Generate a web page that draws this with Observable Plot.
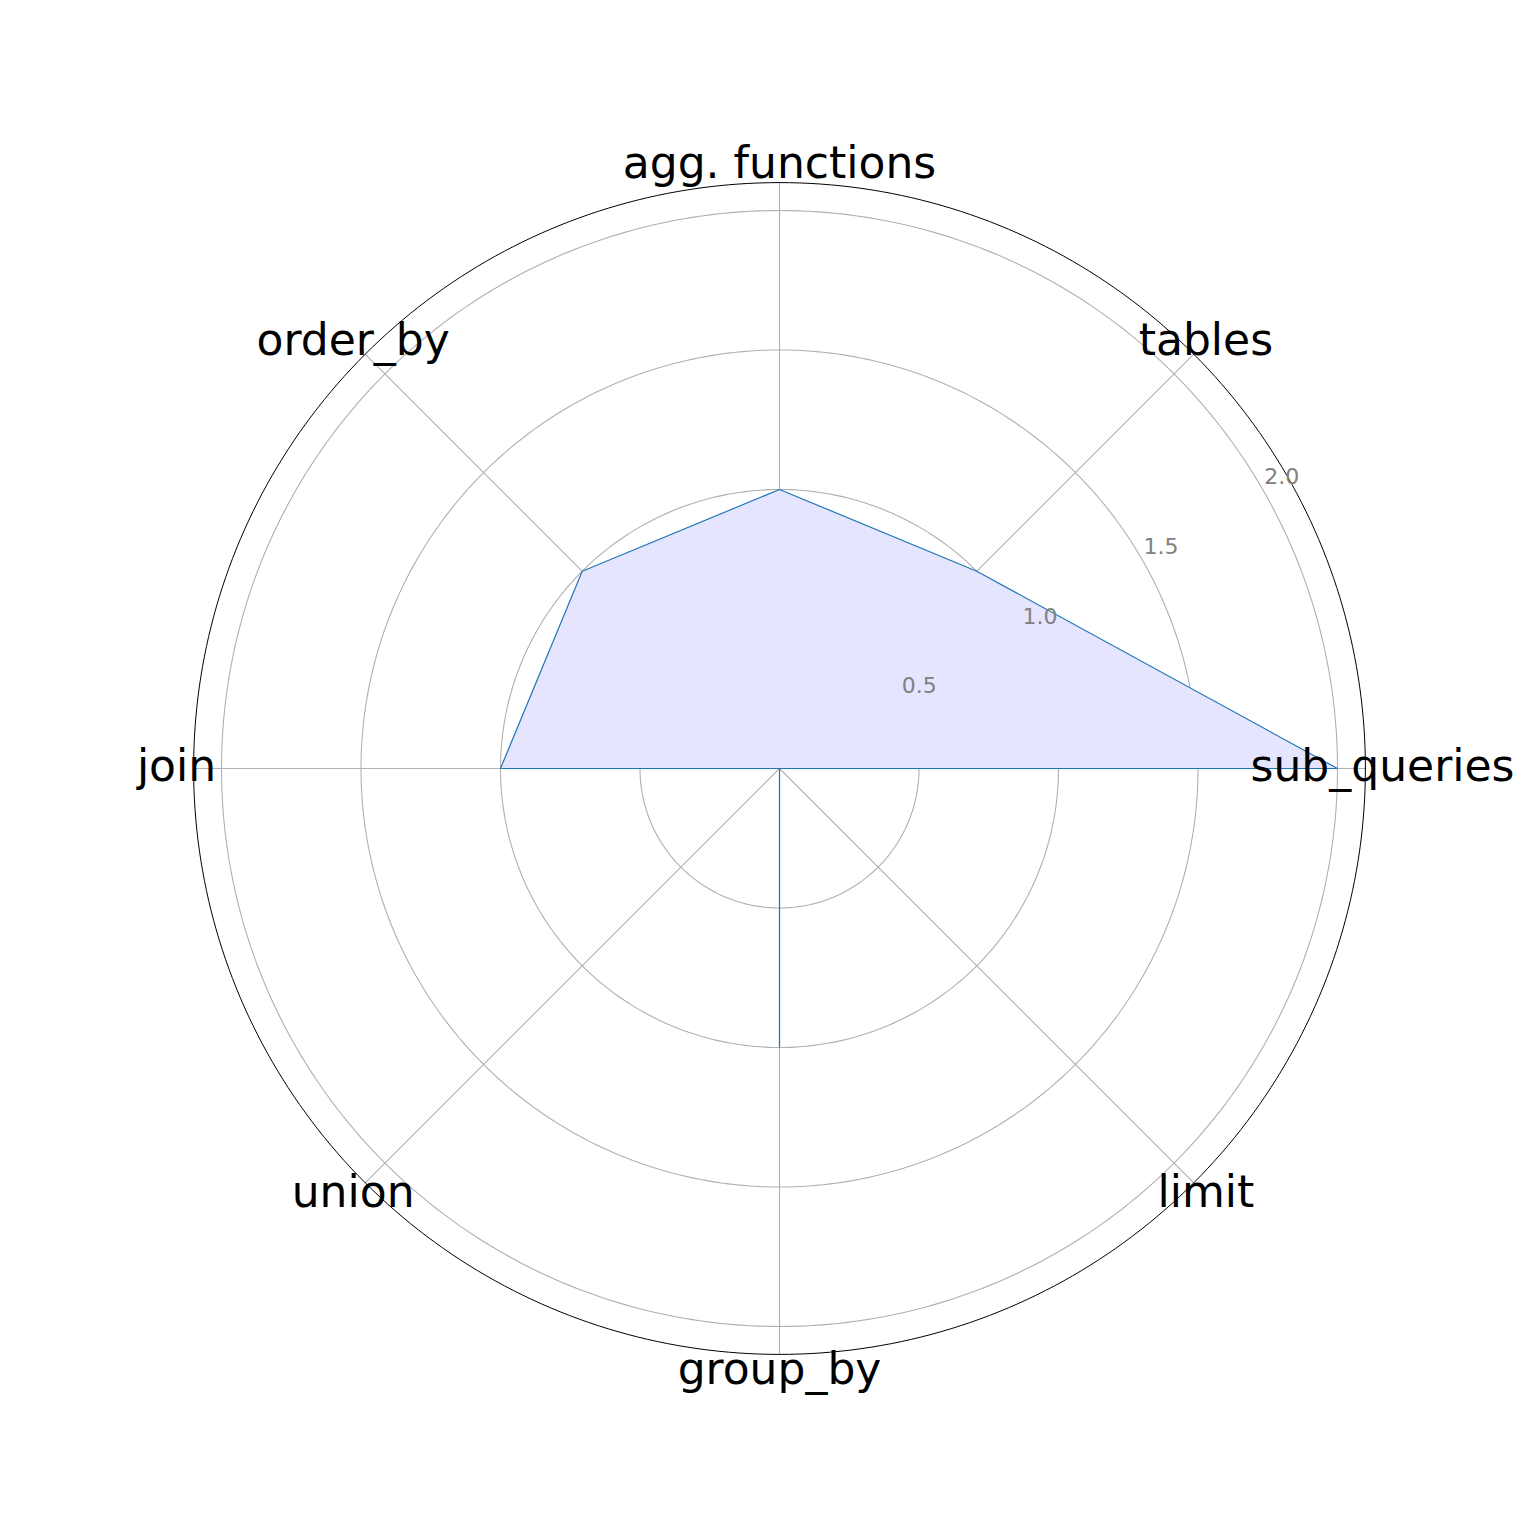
<!DOCTYPE html>
<html>
<head>
<meta charset="utf-8">
<script src="https://cdn.jsdelivr.net/npm/d3@7"></script>
<script src="https://cdn.jsdelivr.net/npm/@observablehq/plot@0.6"></script>
<style>
  html, body { margin: 0; padding: 0; background: #fff; }
  #chart svg { display: block; font-family: "DejaVu Sans", sans-serif; }
</style>
</head>
<body>
<div id="chart"></div>
<script>
// ---- data ----
const categories = ["sub_queries", "tables", "agg. functions", "order_by", "join", "union", "group_by", "limit"];
const values = [2, 1, 1, 1, 1, 0, 1, 0];
const rTicks = [0.5, 1.0, 1.5, 2.0];
const rMax = 2.1;

// ---- layout ----
const W = 1522, H = 1522;
const cx = 779, cy = 768, unit = 279; // center pixel and pixels per unit
const labelR = 603 / unit;
const tickAngle = 30 * Math.PI / 180;

const n = categories.length;
const ang = i => 2 * Math.PI * i / n;
const pol = (r, a) => ({x: r * Math.cos(a), y: r * Math.sin(a)});

const ringPts = [];
for (const r of rTicks) {
  for (let k = 0; k <= 360; k++) ringPts.push({ring: r, ...pol(r, k * Math.PI / 180)});
}
const outerPts = d3.range(0, 361).map(k => pol(rMax, k * Math.PI / 180));
const spokes = [];
categories.forEach((c, i) => {
  spokes.push({c, ...pol(0, ang(i))});
  spokes.push({c, ...pol(rMax, ang(i))});
});
const poly = values.map((v, i) => pol(v, ang(i)));
poly.push(poly[0]);
const labels = categories.map((c, i) => ({c, ...pol(labelR, ang(i))}));
const tickLabels = rTicks.map(r => ({r, ...pol(r, tickAngle)}));

const chart = Plot.plot({
  width: W,
  height: H,
  margin: 0,
  x: {domain: [-cx / unit, (W - cx) / unit], axis: null},
  y: {domain: [-(H - cy) / unit, cy / unit], axis: null},
  marks: [
    Plot.line(ringPts, {x: "x", y: "y", z: "ring", stroke: "#b0b0b0", strokeWidth: 1.1, curve: "linear"}),
    Plot.line(spokes, {x: "x", y: "y", z: "c", stroke: "#b0b0b0", strokeWidth: 1.1}),
    Plot.line(poly, {x: "x", y: "y", fill: "#e5e5ff", stroke: "none"}),
    Plot.line(poly, {x: "x", y: "y", stroke: "#1f77b4", strokeWidth: 1.2, strokeLinejoin: "miter", strokeLinecap: "butt"}),
    Plot.line(outerPts, {x: "x", y: "y", stroke: "#000", strokeWidth: 1}),
    Plot.text(tickLabels, {x: "x", y: "y", text: d => d3.format(".1f")(d.r), dx: 19, dy: -12.5, fill: "#808080", fontSize: 22, lineAnchor: "middle"}),
    Plot.text(labels, {x: "x", y: "y", text: "c", fill: "#000", fontSize: 44, dy: -1.5, lineAnchor: "middle"})
  ]
});
document.getElementById("chart").appendChild(chart);
</script>
</body>
</html>
